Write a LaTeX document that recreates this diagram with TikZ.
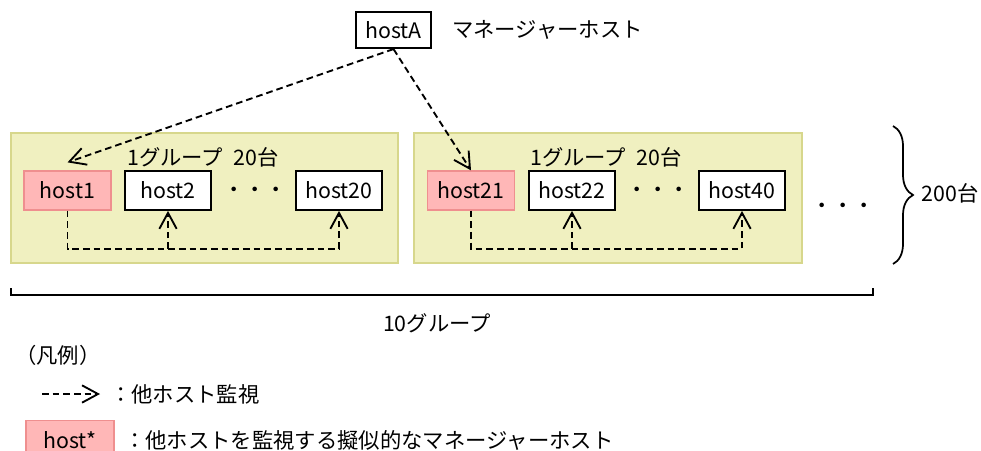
\documentclass[tikz,border=0pt]{standalone}
\usepackage{fontspec}
\setmainfont{Noto Sans CJK JP}
\usetikzlibrary{arrows.meta,decorations.pathreplacing,calc}
\definecolor{grpfill}{HTML}{F0F0C0}
\definecolor{grpline}{HTML}{D7D78C}
\definecolor{pinkfill}{HTML}{FFB7B7}
\definecolor{pinkline}{HTML}{EF8F8F}
\begin{document}
\begin{tikzpicture}[x=0.75pt,y=-0.75pt,
 every node/.style={font=\fontsize{16pt}{19pt}\selectfont, inner sep=0pt},
 hostbox/.style={draw=black,line width=1.6pt,fill=white,minimum width=65pt,minimum height=29pt},
 pinkbox/.style={draw=pinkline,line width=1.2pt,fill=pinkfill,minimum width=65pt,minimum height=29pt},
 group/.style={draw=grpline,line width=1.5pt,fill=grpfill},
 mon/.style={dash pattern=on 5pt off 3pt,line width=1.4pt},
 montip/.style={-{Straight Barb[length=12pt,width=13pt,line width=1.4pt]}}
]
\useasboundingbox (0,0) rectangle (981,450);

% groups
\draw[group] (11,133) rectangle (398,263);
\draw[group] (414,133) rectangle (802,263);

% manager host
\node[hostbox,minimum width=56pt,minimum height=27pt] (A) at (393.5,30) {hostA};
\node[anchor=west] (Alab) at (452,30) {マネージャーホスト};

% group labels
\node (g1) at (203,157) {1グループ\enspace 20台};
\node (g2) at (606,157) {1グループ\enspace 20台};

% hosts
\node[pinkbox] (h1) at (67.5,190.5) {host1};
\node[hostbox] (h2) at (168,190.5) {host2};
\node[hostbox] (h20) at (339,190.5) {host20};
\node[pinkbox] (h21) at (471,190.5) {host21};
\node[hostbox] (h22) at (572,190.5) {host22};
\node[hostbox] (h40) at (742,190.5) {host40};

\node (d1) at (255,192) {・・・};
\node (d2) at (658,192) {・・・};
\node (d3) at (843,208) {・・・};

% arrows from manager
\coordinate (h1t) at ($(h1.north)+(0,-8)$);
\draw[mon,montip] (A.south) -- (h1t);
\draw[mon,montip] (A.south) -- (h21.north);

% monitoring inside groups
\draw[mon,montip] (h1.south) -- ++(0,38) -| (h20.south);
\coordinate (j2) at ($(h2.south)+(0,38)$);
\draw[mon,montip] (j2) -- (h2.south);
\draw[mon,montip] (h21.south) -- ++(0,38) -| (h40.south);
\coordinate (j22) at ($(h22.south)+(0,38)$);
\draw[mon,montip] (j22) -- (h22.south);

% brace
\draw[line width=1.3pt,decorate,decoration={brace,amplitude=15pt}] (893,126) -- (893,264);
\node[anchor=east] (n200) at (979,193) {200台};

% bottom bracket
\draw[line width=1.3pt] (11,288) -- (11,295) -- (873,295) -- (873,288);
\node (ten) at (437,323) {10グループ};

% legend
\node (lg) at (58,355) {（凡例）};
\coordinate (la) at (42,394);
\coordinate (lb) at (100,394);
\draw[mon,montip] (la) -- (lb);
\node[anchor=west] (lt1) at (110,394) {：他ホスト監視};
\node[pinkbox,minimum width=66pt] (hs) at (70,440) {host*};
\node[anchor=west] (lt2) at (124,440) {：他ホストを監視する擬似的なマネージャーホスト};
\end{tikzpicture}
\end{document}
